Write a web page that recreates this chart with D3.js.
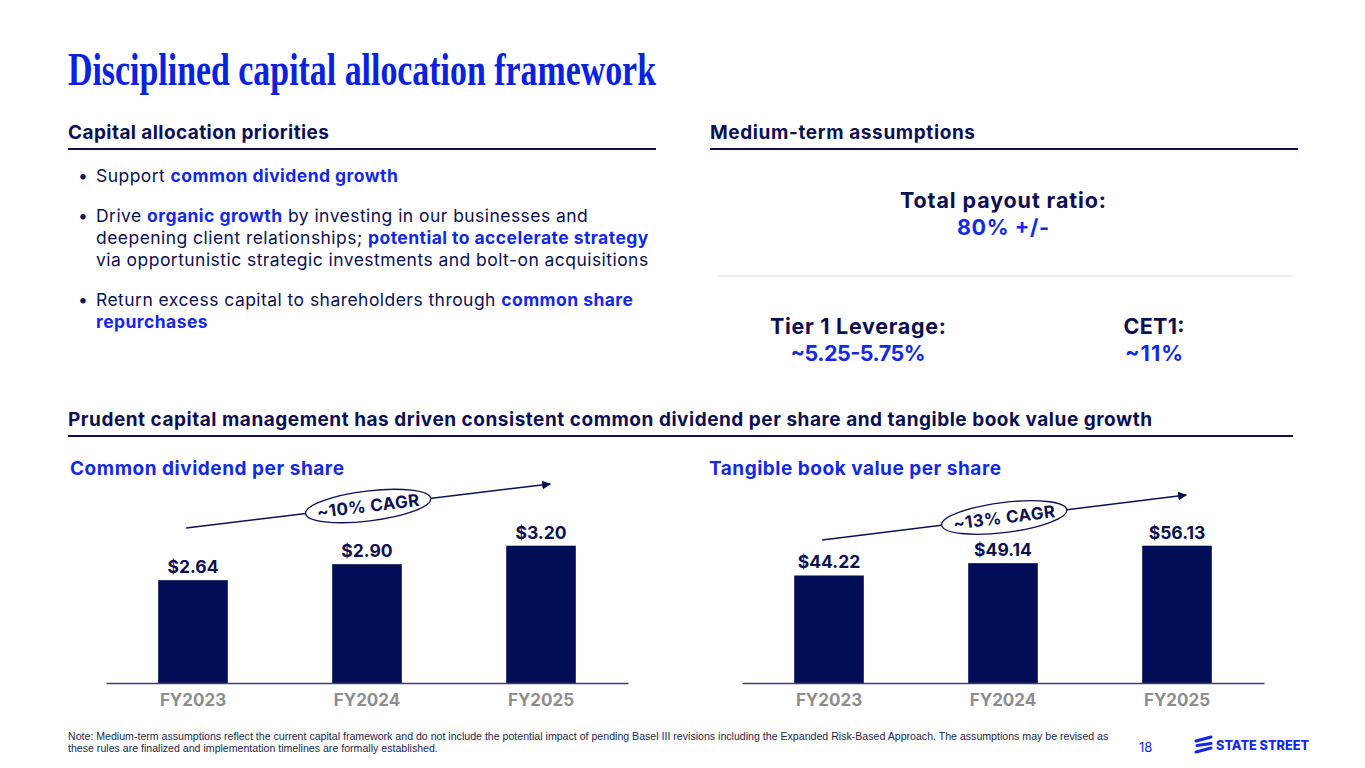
<!DOCTYPE html>
<html>
<head>
<meta charset="utf-8">
<script src="https://cdn.jsdelivr.net/npm/d3@7"></script>
<style>
  body { margin: 0; background: #fff; }
  svg { display: block; font-family: Inter, "Noto Sans", sans-serif; }
</style>
</head>
<body>
<div id="slide"></div>
<script>
// ---- data ----
var years = ['FY2023', 'FY2024', 'FY2025'];
var dividendPerShare = [2.64, 2.90, 3.20];
var tangibleBookValue = [44.22, 49.14, 56.13];
var dividendLabels = ['$2.64', '$2.90', '$3.20'];
var bookValueLabels = ['$44.22', '$49.14', '$56.13'];
var cagrLabels = ['~10% CAGR', '~13% CAGR'];

var bullets = [
    [[['Support ', 0], ['common dividend growth', 1]]],
    [[['Drive ', 0], ['organic growth', 1], [' by investing in our businesses and', 0]],
     [['deepening client relationships; ', 0], ['potential to accelerate strategy', 1]],
     [['via opportunistic strategic investments and bolt-on acquisitions', 0]]],
    [[['Return excess capital to shareholders through ', 0], ['common share', 1]],
     [['repurchases', 1]]]
];

var navy = '#0c1050', blue = '#1428e6', barColor = '#020d58', grey = '#8d8d8d';

var width = 1365, height = 768;
var svg = d3.select('#slide').append('svg')
    .attr('width', width).attr('height', height);

// ------- title --------
svg.append('text')
    .attr('x', 68).attr('y', 85)
    .attr('textLength', 588).attr('lengthAdjust', 'spacingAndGlyphs')
    .style('font-family', '"Liberation Serif", serif')
    .style('font-weight', 700).style('font-size', '46px')
    .style('fill', '#0a22e0')
    .text('Disciplined capital allocation framework');

// section headers with rule
function header(x, y, x2, lineY, label, len) {
    svg.append('text').attr('x', x).attr('y', y)
        .attr('textLength', len).attr('lengthAdjust', 'spacing')
        .style('font-weight', 700).style('font-size', '19px').style('fill', navy)
        .text(label);
    svg.append('line').attr('x1', x).attr('x2', x2).attr('y1', lineY).attr('y2', lineY)
        .style('stroke', navy).style('stroke-width', 2);
}
header(68, 139, 656, 149, 'Capital allocation priorities', 261);
header(710, 139, 1298, 149, 'Medium-term assumptions', 265);
header(68, 426, 1293, 436, 'Prudent capital management has driven consistent common dividend per share and tangible book value growth', 1084);

// ------- bullets --------
var by = 182;
bullets.forEach(function(par) {
    svg.append('text').attr('x', 78).attr('y', by)
        .style('font-size', '17.5px').style('fill', navy).text('•');
    par.forEach(function(line, i) {
        var t = svg.append('text').attr('x', 96).attr('y', by + i * 22)
            .style('font-size', '17.5px').style('letter-spacing', '0.45px');
        t.selectAll('tspan').data(line).enter().append('tspan')
            .style('font-weight', function(d) { return d[1] ? 700 : 400 })
            .style('fill', function(d) { return d[1] ? blue : navy })
            .text(function(d) { return d[0] });
    });
    by += (par.length - 1) * 22 + 40;
});

// ------- medium-term assumptions --------
function kpi(cx, y, label, value, w1, w2) {
    svg.append('text').attr('x', cx).attr('y', y).attr('text-anchor', 'middle')
        .attr('textLength', w1).attr('lengthAdjust', 'spacing')
        .style('font-weight', 700).style('font-size', '21.5px').style('fill', navy).text(label);
    svg.append('text').attr('x', cx).attr('y', y + 27).attr('text-anchor', 'middle')
        .attr('textLength', w2).attr('lengthAdjust', 'spacing')
        .style('font-weight', 700).style('font-size', '21.5px').style('fill', blue).text(value);
}
kpi(1003, 208, 'Total payout ratio:', '80% +/-', 206, 92);
svg.append('line').attr('x1', 717).attr('x2', 1293).attr('y1', 276).attr('y2', 276)
    .style('stroke', '#e8e8ec').style('stroke-width', 1.5);
kpi(858, 334, 'Tier 1 Leverage:', '~5.25-5.75%', 176, 135);
kpi(1154, 334, 'CET1:', '~11%', 61, 58);

// ------- bar charts --------
svg.append('defs').append('marker')
    .attr('id', 'arrow').attr('viewBox', '0 0 10 10')
    .attr('refX', 9).attr('refY', 5)
    .attr('markerWidth', 9).attr('markerHeight', 9)
    .attr('markerUnits', 'userSpaceOnUse')
    .attr('orient', 'auto')
    .append('path').attr('d', 'M0,0 L10,5 L0,10 Z').style('fill', navy);

function barChart(opt) {
    var x = d3.scaleBand().domain(years).range([opt.x0, opt.x1])
        .paddingInner(0.6).paddingOuter(0.3);
    var y = d3.scaleLinear().domain(opt.domain).range([683, 545.7]);
    var g = svg.append('g');

    g.append('text').attr('x', opt.titleX).attr('y', 475)
        .attr('textLength', opt.titleLen).attr('lengthAdjust', 'spacing')
        .style('font-weight', 700).style('font-size', '19px').style('fill', blue)
        .text(opt.title);

    g.selectAll('.bar').data(opt.values).enter().append('rect')
        .attr('class', 'bar')
        .attr('x', function(d, i) { return x(years[i]) })
        .attr('y', function(d) { return y(d) })
        .attr('width', x.bandwidth())
        .attr('height', function(d) { return y.range()[0] - y(d) })
        .style('fill', barColor);

    g.selectAll('.val').data(opt.values).enter().append('text')
        .attr('class', 'val')
        .attr('x', function(d, i) { return x(years[i]) + x.bandwidth() / 2 })
        .attr('y', function(d) { return y(d) - 7 })
        .attr('text-anchor', 'middle')
        .style('font-weight', 700).style('font-size', '17.5px').style('fill', navy)
        .text(function(d, i) { return opt.labels[i] });

    var axis = g.append('g').attr('transform', 'translate(0,683)')
        .call(d3.axisBottom(x).tickSize(0).tickPadding(11));
    axis.select('.domain').style('stroke', '#3c4068').style('stroke-width', 1.5);
    axis.selectAll('text').style('font-family', 'Inter, sans-serif')
        .style('font-weight', 700).style('font-size', '17px').style('fill', grey);

    // CAGR arrow
    var ax1 = x(years[0]) + 28, ax2 = x(years[2]) + 44;
    g.append('line').attr('x1', ax1).attr('y1', opt.arrowY[0])
        .attr('x2', ax2).attr('y2', opt.arrowY[1])
        .style('stroke', navy).style('stroke-width', 1.5)
        .attr('marker-end', 'url(#arrow)');
    var mx = (ax1 + ax2) / 2, my = (opt.arrowY[0] + opt.arrowY[1]) / 2;
    var ang = Math.atan2(opt.arrowY[1] - opt.arrowY[0], ax2 - ax1) * 180 / Math.PI;
    var lab = g.append('g').attr('transform', 'translate(' + mx + ',' + my + ') rotate(' + ang + ')');
    lab.append('ellipse').attr('rx', 63).attr('ry', 15)
        .style('fill', '#fff').style('stroke', navy).style('stroke-width', 1.3);
    lab.append('text').attr('y', 6).attr('text-anchor', 'middle')
        .style('font-weight', 700).style('font-size', '17px').style('fill', navy)
        .style('letter-spacing', '0.4px')
        .text(opt.cagr);
}

barChart({ x0: 106, x1: 628, domain: [0.97, 3.20], values: dividendPerShare,
    labels: dividendLabels, title: 'Common dividend per share', titleX: 70, titleLen: 274,
    arrowY: [528, 484], cagr: cagrLabels[0] });
barChart({ x0: 742, x1: 1264, domain: [1.22, 56.13], values: tangibleBookValue,
    labels: bookValueLabels, title: 'Tangible book value per share', titleX: 709, titleLen: 292,
    arrowY: [540, 495], cagr: cagrLabels[1] });

// ------- footer --------
var note = svg.append('text').attr('x', 68).attr('y', 739.5)
    .style('font-family', '"Liberation Sans", Arial, sans-serif')
    .style('font-size', '10.6px').style('fill', '#1c1f4a');
note.append('tspan').attr('x', 68)
    .text('Note: Medium-term assumptions reflect the current capital framework and do not include the potential impact of pending Basel III revisions including the Expanded Risk-Based Approach. The assumptions may be revised as');
note.append('tspan').attr('x', 68).attr('dy', 12)
    .text('these rules are finalized and implementation timelines are formally established.');

svg.append('text').attr('x', 1139).attr('y', 752)
    .style('font-size', '13px').style('fill', blue).text('18');

// logo
var logo = svg.append('g').attr('transform', 'translate(1196,736)');
[[0, 5, 15, 1], [1, 9.5, 15, 7.5], [0, 16, 15, 12]].forEach(function(s) {
    logo.append('line').attr('x1', s[0]).attr('y1', s[1]).attr('x2', s[2]).attr('y2', s[3])
        .style('stroke', blue).style('stroke-width', 3).style('stroke-linecap', 'round');
});
svg.append('text').attr('x', 1216).attr('y', 750)
    .attr('textLength', 93).attr('lengthAdjust', 'spacingAndGlyphs')
    .style('font-weight', 800).style('font-size', '13px').style('fill', blue)
    .text('STATE STREET');
</script>
</body>
</html>
